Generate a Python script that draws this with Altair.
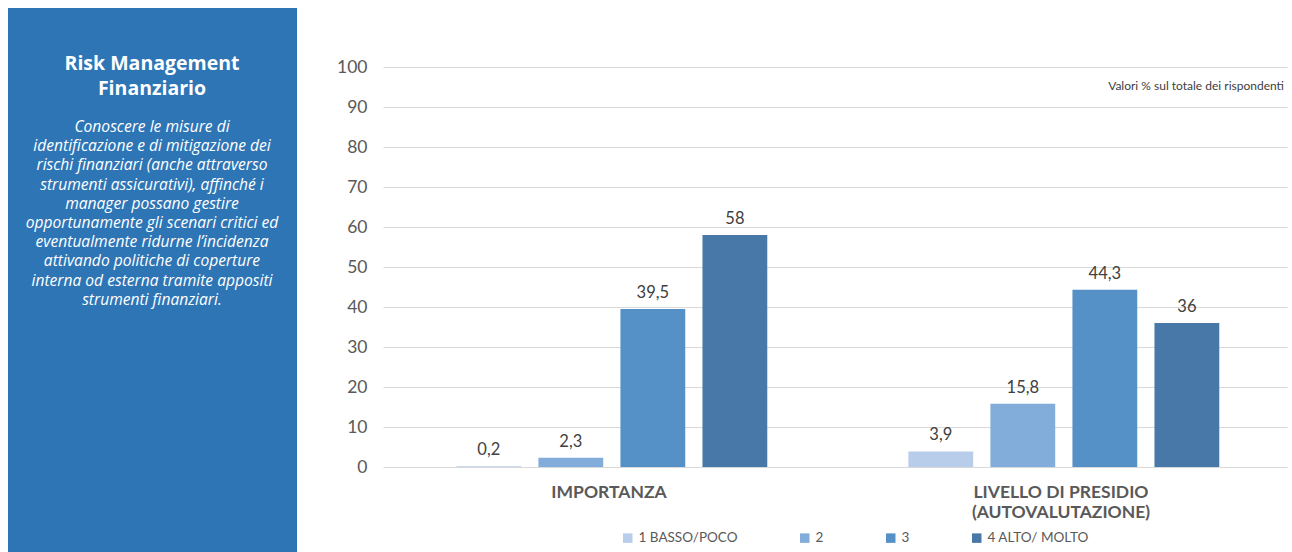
import altair as alt
import pandas as pd

# Survey results: % of respondents per rating level
groups = ["IMPORTANZA", "LIVELLO DI PRESIDIO (AUTOVALUTAZIONE)"]
levels = ["1 BASSO/POCO", "2", "3", "4 ALTO/ MOLTO"]
importanza = [0.2, 2.3, 39.5, 58]
presidio = [3.9, 15.8, 44.3, 36]
colors = ["#B7CDE9", "#82ACDA", "#5591C7", "#4778A8"]

y_ticks = [0, 10, 20, 30, 40, 50, 60, 70, 80, 90, 100]

panel_title = ["Risk Management", "Finanziario"]
panel_body = [
    "Conoscere le misure di",
    "identificazione e di mitigazione dei",
    "rischi finanziari (anche attraverso",
    "strumenti assicurativi), affinché i",
    "manager possano gestire",
    "opportunamente gli scenari critici ed",
    "eventualmente ridurne l\u2019incidenza",
    "attivando politiche di coperture",
    "interna od esterna tramite appositi",
    "strumenti finanziari.",
]
note = "Valori % sul totale dei rispondenti"


def fmt(v):
    s = f"{v:g}"
    return s.replace(".", ",")


rows = []
for g, vals in zip(groups, [importanza, presidio]):
    for lvl, v in zip(levels, vals):
        rows.append({"gruppo": g, "livello": lvl, "valore": v, "etichetta": fmt(v)})
df = pd.DataFrame(rows)

FONT = "Lato"
PANEL_FONT = "Open Sans"
W, H = 904, 400
LEFT, TOP = 383, 67

x_enc = alt.X(
    "gruppo:N",
    sort=groups,
    scale=alt.Scale(paddingInner=0, paddingOuter=0),
    axis=alt.Axis(
        title=None,
        labelAngle=0,
        domain=False,
        ticks=False,
        grid=False,
        labelFont=FONT,
        labelFontSize=17.5,
        labelFontWeight="bold",
        labelColor="#595959",
        labelPadding=16,
        labelLineHeight=20,
        labelExpr="split(replace(datum.label, ' (', '|('), '|')",
    ),
)
xoff = alt.XOffset(
    "livello:N",
    sort=levels,
    scale=alt.Scale(paddingInner=0.21, paddingOuter=0.86, align=0.52),
)
y_enc = alt.Y(
    "valore:Q",
    scale=alt.Scale(domain=[0, 100], nice=False),
    axis=alt.Axis(
        title=None,
        values=y_ticks,
        labelOverlap=False,
        domain=False,
        ticks=False,
        grid=True,
        gridColor="#D9D9D9",
        gridWidth=1,
        labelFont=FONT,
        labelFontSize=17.5,
        labelColor="#595959",
        labelPadding=16,
    ),
)

base = alt.Chart(df)

bars = base.mark_bar().encode(
    x=x_enc,
    xOffset=xoff,
    y=y_enc,
    color=alt.Color(
        "livello:N",
        sort=levels,
        scale=alt.Scale(domain=levels, range=colors),
        legend=alt.Legend(
            title=None,
            orient="none",
            direction="horizontal",
            legendX=238,
            legendY=464,
            symbolType="square",
            symbolSize=90,
            symbolStrokeWidth=0,
            symbolOffset=0,
            labelFont=FONT,
            labelFontSize=13.5,
            labelColor="#595959",
            columnPadding=60,
            labelOffset=4,
        ),
    ),
)

# Value labels share the same axes as the bars
labels = base.mark_text(
    font=FONT, fontSize=16.5, color="#404040", baseline="bottom", dy=-8
).encode(
    x=x_enc,
    xOffset=xoff,
    y=y_enc,
    text="etichetta:N",
)

# Side panel with the topic description
panel = alt.Chart(pd.DataFrame({"k": [0]})).mark_rect(color="#2E75B6").encode(
    x=alt.value(8 - LEFT),
    x2=alt.value(297 - LEFT),
    y=alt.value(8 - TOP),
    y2=alt.value(560 - TOP),
)
panel_head = alt.Chart(pd.DataFrame({"t": [panel_title]})).mark_text(
    font=PANEL_FONT,
    fontSize=19.5,
    fontWeight="bold",
    color="white",
    align="center",
    baseline="top",
    lineHeight=25,
).encode(x=alt.value(152 - LEFT), y=alt.value(55 - TOP), text="t")
panel_text = alt.Chart(pd.DataFrame({"t": [panel_body]})).mark_text(
    font=PANEL_FONT,
    fontSize=15.6,
    fontStyle="italic",
    color="white",
    align="center",
    baseline="top",
    lineHeight=19.2,
).encode(x=alt.value(152 - LEFT), y=alt.value(120 - TOP), text="t")

note_text = alt.Chart(pd.DataFrame({"t": [note]})).mark_text(
    font=FONT, fontSize=12, color="#404040", align="right", baseline="middle"
).encode(x=alt.value(W - 3), y=alt.value(86 - TOP), text="t")

chart = (
    alt.layer(panel, panel_head, panel_text, bars, labels, note_text)
    .properties(
        width=W,
        height=H,
        background="white",
        autosize=alt.AutoSizeParams(type="none"),
        padding={"left": LEFT, "top": TOP, "right": 5, "bottom": 85},
    )
    .configure_view(strokeWidth=0, stroke="transparent")
)

chart.save("out.html", embed_options={"renderer": "svg", "actions": False})
